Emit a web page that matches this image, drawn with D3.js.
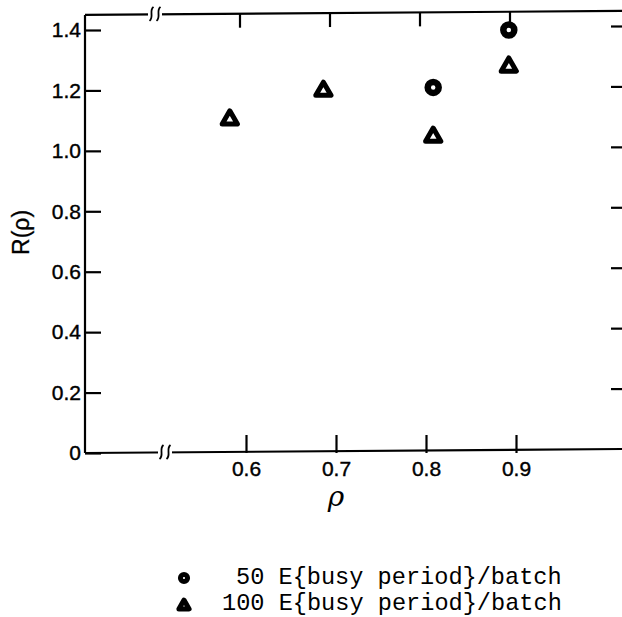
<!DOCTYPE html>
<html>
<head>
<meta charset="utf-8">
<script src="https://cdn.jsdelivr.net/npm/d3@7"></script>
<style>
  html, body { margin: 0; padding: 0; background: #fff; }
  svg { display: block; }
</style>
</head>
<body>
<div id="chart"></div>
<script>
// values
const rho50 = [0.808, 0.892];
const r50 = [1.21, 1.40];
const rho100 = [0.582, 0.686, 0.808, 0.892];
const r100 = [1.11, 1.205, 1.053, 1.285];

const xTicks = [0.6, 0.7, 0.8, 0.9];
const yTicks = [0, 0.2, 0.4, 0.6, 0.8, 1.0, 1.2, 1.4];
const legendLabels = ['50 E{busy period}/batch', '100 E{busy period}/batch'];

const svgWidth = 622, svgHeight = 617;
const frame = { left: 85, right: 625 };
const labelFont = '"Liberation Sans", Arial, sans-serif';

const x = d3.scaleLinear().domain([0.6, 0.9]).range([246, 516]);
const y = d3.scaleLinear().domain([0, 1.4]).range([453, 30]);
const yTop = y(1.45);

const svg = d3.select('#chart').append('svg')
  .attr('width', svgWidth)
  .attr('height', svgHeight);

// frame lines (the scan is slightly tilted)
const frameG = svg.append('g')
  .attr('stroke', '#000')
  .attr('stroke-width', 2.2)
  .attr('fill', 'none');
frameG.append('line').attr('x1', frame.left).attr('x2', frame.left).attr('y1', yTop).attr('y2', y(0));
frameG.append('line').attr('x1', frame.left).attr('x2', frame.right).attr('y1', y(0)).attr('y2', y(0) - 4);
frameG.append('line').attr('x1', frame.left).attr('x2', frame.right).attr('y1', yTop).attr('y2', yTop - 4);

function styleAxis(g) {
  g.select('.domain').remove();
  g.selectAll('.tick line').attr('stroke', '#000').attr('stroke-width', 2.2);
  g.selectAll('.tick text')
    .style('font-family', labelFont)
    .style('font-size', '21px')
    .attr('fill', '#000')
    .attr('stroke', '#000')
    .attr('stroke-width', 0.4);
}

// left axis, ticks inside
svg.append('g')
  .attr('transform', `translate(${frame.left},0)`)
  .call(d3.axisLeft(y).tickValues(yTicks).tickSize(-16).tickPadding(4)
    .tickFormat(d => d === 0 ? '0' : d3.format('.1f')(d)))
  .call(styleAxis);

// right axis, ticks inside, no labels
svg.append('g')
  .attr('transform', `translate(${frame.right},-4)`)
  .call(d3.axisRight(y).tickValues(yTicks.filter(d => d > 0)).tickSize(-14).tickFormat(() => ''))
  .call(styleAxis);

// bottom axis
svg.append('g')
  .attr('transform', `translate(0,${y(0)})`)
  .call(d3.axisBottom(x).tickValues(xTicks).tickSize(-18).tickPadding(8)
    .tickFormat(d3.format('.1f')))
  .call(styleAxis);

// top axis ticks, pointing down
const slope = 4 / (frame.right - frame.left);
svg.append('g')
  .selectAll('line')
  .data(xTicks)
  .enter()
  .append('line')
  .attr('x1', d => x(d) - 6)
  .attr('x2', d => x(d) - 6)
  .attr('y1', d => yTop - slope * (x(d) - frame.left))
  .attr('y2', d => yTop + 14 - slope * (x(d) - frame.left))
  .attr('stroke', '#000')
  .attr('stroke-width', 2.2);

// axis break marks
function breakMark(cx, cy) {
  const g = svg.append('g').attr('transform', `translate(${cx},${cy})`);
  g.append('rect').attr('x', -7).attr('y', -4).attr('width', 14).attr('height', 8).attr('fill', '#fff');
  [-3.5, 3.5].forEach(dx => {
    g.append('path')
      .attr('d', `M${dx + 2},-7 C${dx - 3},-3 ${dx + 3},3 ${dx - 2},7`)
      .attr('fill', 'none').attr('stroke', '#000').attr('stroke-width', 1.8);
  });
}
breakMark(x(0.5) - 1, yTop - 1);
breakMark(x(0.5) + 9, y(0) - 1);

// axis titles
svg.append('text')
  .attr('transform', `translate(29,${y(0.73)}) rotate(-90)`)
  .attr('text-anchor', 'middle')
  .style('font-family', labelFont)
  .style('font-size', '23px')
  .attr('stroke', '#000')
  .attr('stroke-width', 0.3)
  .text('R(ρ)');

svg.append('text')
  .attr('x', 336).attr('y', 506)
  .attr('text-anchor', 'middle')
  .style('font-family', '"DejaVu Serif", serif')
  .style('font-style', 'italic')
  .style('font-size', '28px')
  .text('ρ');

// markers
const circleSym = d3.symbol(d3.symbolCircle, 95);
const triSym = d3.symbol(d3.symbolTriangle, 100);

const pts50 = rho50.map((d, i) => ({ rho: d, r: r50[i] }));
const pts100 = rho100.map((d, i) => ({ rho: d, r: r100[i] }));

svg.append('g').selectAll('path')
  .data(pts50)
  .enter()
  .append('path')
  .attr('d', circleSym)
  .attr('transform', d => `translate(${x(d.rho)},${y(d.r)})`)
  .attr('fill', '#fff')
  .attr('stroke', '#000')
  .attr('stroke-width', 6.5);

svg.append('g').selectAll('path')
  .data(pts100)
  .enter()
  .append('path')
  .attr('d', triSym)
  .attr('transform', d => `translate(${x(d.rho)},${y(d.r) + 2})`)
  .attr('fill', '#fff')
  .attr('stroke', '#000')
  .attr('stroke-width', 5)
  .attr('stroke-linejoin', 'round');

// legend
const legend = svg.append('g');
const legendSyms = [d3.symbol(d3.symbolCircle, 40), d3.symbol(d3.symbolTriangle, 45)];
const legendX = [236, 222];
legendLabels.forEach((label, i) => {
  const ly = 578 + i * 26;
  legend.append('path')
    .attr('d', legendSyms[i])
    .attr('transform', `translate(184,${ly + (i ? 2 : 0)})`)
    .attr('fill', '#fff')
    .attr('stroke', '#000')
    .attr('stroke-width', 5)
    .attr('stroke-linejoin', 'round');
  legend.append('text')
    .attr('x', legendX[i])
    .attr('y', ly + 6)
    .style('font-family', '"Courier New", "Liberation Mono", monospace')
    .style('font-size', '23.6px')
    .attr('fill', '#000')
    .text(label);
});
</script>
</body>
</html>
